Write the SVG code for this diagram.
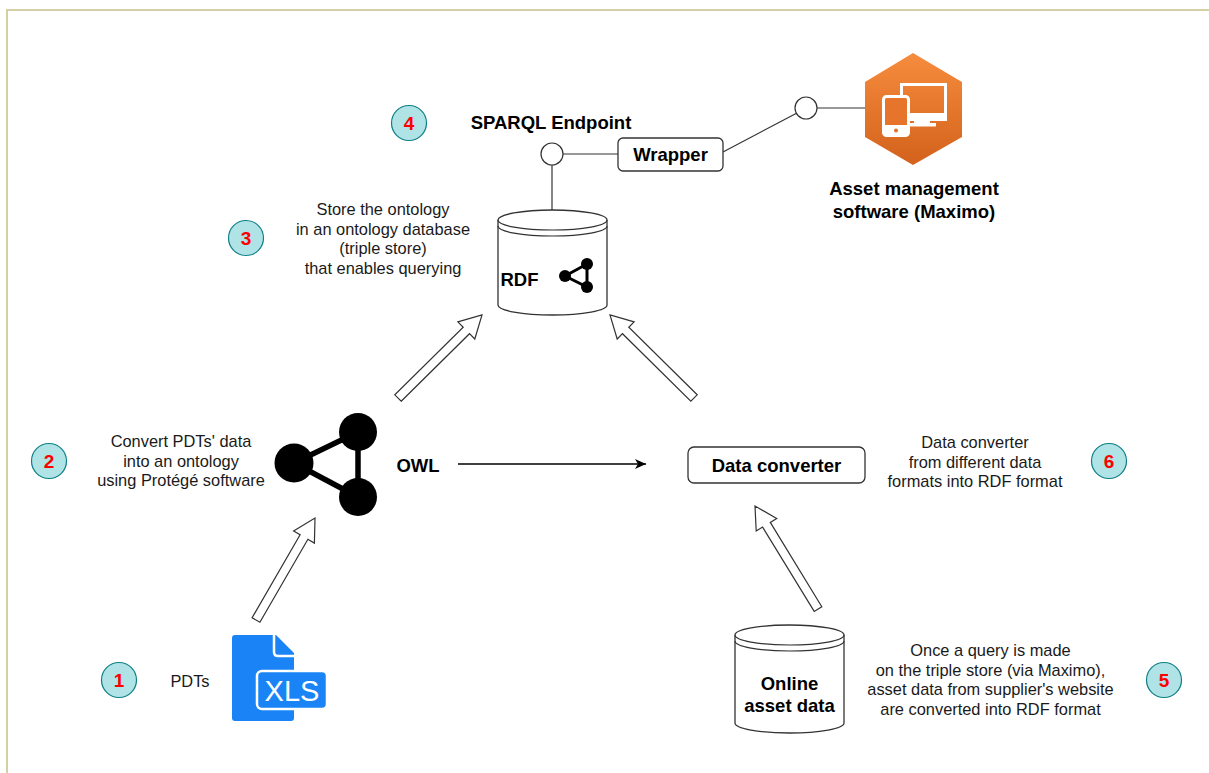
<svg xmlns="http://www.w3.org/2000/svg" width="1209" height="773" viewBox="0 0 1209 773">
<defs>
<linearGradient id="orange" x1="0" y1="0" x2="0" y2="1">
<stop offset="0" stop-color="#f68c3d"/>
<stop offset="1" stop-color="#d3621c"/>
</linearGradient>
<marker id="classic" markerWidth="12" markerHeight="10" refX="11" refY="5" orient="auto" markerUnits="userSpaceOnUse">
<path d="M0,0 L11,5 L0,10 L3,5 Z" fill="#000"/>
</marker>
</defs>
<style>
text{font-family:"Liberation Sans",Arial,sans-serif;}
.t{font-size:16.4px;fill:#1a1a1a;text-anchor:middle;}
.b{font-size:18.5px;font-weight:bold;fill:#000;text-anchor:middle;}
.num{fill:#b0e3e6;stroke:#0e8088;stroke-width:1.2;}
.numt{font-size:19px;font-weight:bold;fill:#ff0000;text-anchor:middle;}
.line{stroke:#333;stroke-width:1.2;fill:none;}
.port{fill:#fff;stroke:#333;stroke-width:1.2;}
.cyl{fill:#fff;stroke:#333;stroke-width:1.3;}
.barrow{fill:#fff;stroke:#333;stroke-width:1.2;stroke-linejoin:miter;}
</style>
<rect width="1209" height="773" fill="#fff"/>
<path d="M7,773 L7,10 L1209,10" fill="none" stroke="#d6cfa6" stroke-width="2"/>

<g id="connectors">
<line class="line" x1="552" y1="165" x2="552" y2="210"/>
<line class="line" x1="563" y1="154" x2="618" y2="154"/>
<line class="line" x1="723" y1="152" x2="797" y2="113"/>
<line class="line" x1="817" y1="108" x2="865" y2="108"/>
<line x1="458" y1="464" x2="646" y2="464" stroke="#000" stroke-width="1.3" marker-end="url(#classic)"/>
<polygon class="barrow" points="401.2,401.2 469.5,333.7 474.8,339 482,315 457.9,321.9 463.2,327.3 394.8,394.8"/>
<polygon class="barrow" points="697.2,394.8 628.8,327.3 634.1,321.9 610,315 617.2,339 622.5,333.7 690.8,401.2"/>
<polygon class="barrow" points="259.9,622.3 307.9,539.3 314.4,543.1 315,518 293.6,531 300.1,534.8 252.1,617.8"/>
<polygon class="barrow" points="821.8,606.7 770.3,522.4 776.7,518.5 755,506 756.2,531 762.6,527.1 814.2,611.4"/>
</g>

<g id="step1">
<circle class="num" cx="119" cy="680" r="17.5"/>
<text class="numt" x="119" y="687">1</text>
</g>
<g id="step2">
<circle class="num" cx="49" cy="461" r="17.5"/>
<text class="numt" x="49" y="468">2</text>
</g>
<g id="step3">
<circle class="num" cx="246" cy="238" r="17.5"/>
<text class="numt" x="246" y="245">3</text>
</g>
<g id="step4">
<circle class="num" cx="409" cy="123" r="17.5"/>
<text class="numt" x="409" y="130">4</text>
</g>
<g id="step5">
<circle class="num" cx="1164" cy="680" r="17.5"/>
<text class="numt" x="1164" y="687">5</text>
</g>
<g id="step6">
<circle class="num" cx="1109" cy="461" r="17.5"/>
<text class="numt" x="1109" y="468">6</text>
</g>

<g id="sparql-endpoint">
<text class="b" x="551" y="129">SPARQL Endpoint</text>
<circle class="port" cx="552" cy="154" r="11"/>
</g>

<g id="wrapper">
<rect x="618" y="138" width="105" height="33" rx="5" fill="#fff" stroke="#333" stroke-width="1.3"/>
<text class="b" x="670.5" y="161">Wrapper</text>
</g>

<g id="maximo-port">
<circle class="port" cx="806" cy="108" r="11"/>
</g>

<g id="maximo">
<polygon points="913,53 962,82 962,137 913,165 865,137 865,82" fill="url(#orange)"/>
<rect x="901.5" y="84.5" width="44" height="35" fill="none" stroke="#fff" stroke-width="3"/>
<rect x="901" y="113" width="45" height="7" fill="#fff"/>
<rect x="914" y="119" width="16" height="5" fill="#fff"/>
<rect x="910" y="123" width="26" height="3.5" fill="#fff"/>
<rect x="883.5" y="96.5" width="25" height="39" rx="3" fill="#e7742b" stroke="#fff" stroke-width="3"/>
<rect x="883" y="125" width="26" height="10" fill="#fff"/>
<circle cx="896" cy="130.5" r="2" fill="#e0702a"/>
<text class="b" x="914" y="195">Asset management</text>
<text class="b" x="914" y="218">software (Maximo)</text>
</g>

<g id="rdf">
<path class="cyl" d="M498,220 A54.5,10 0 0 1 607,220 L607,305 A54.5,10 0 0 1 498,305 Z"/>
<path class="line" d="M498,220 A54.5,10 0 0 0 607,220 M498,226 A54.5,10 0 0 0 607,226"/>
<text class="b" x="519.5" y="286">RDF</text>
<g stroke="#000" stroke-width="3">
<line x1="565" y1="276" x2="587" y2="264"/>
<line x1="565" y1="276" x2="587" y2="287"/>
<line x1="587" y1="264" x2="587" y2="287"/>
</g>
<circle cx="587" cy="264" r="6" fill="#000"/>
<circle cx="565" cy="276" r="6" fill="#000"/>
<circle cx="587" cy="287" r="6" fill="#000"/>
</g>

<g id="store-note">
<text class="t" x="383" y="215">Store the ontology</text>
<text class="t" x="383" y="234.5">in an ontology database</text>
<text class="t" x="383" y="254">(triple store)</text>
<text class="t" x="383" y="273.5">that enables querying</text>
</g>

<g id="owl">
<g stroke="#000" stroke-width="5.5">
<line x1="294" y1="463" x2="358" y2="432"/>
<line x1="294" y1="463" x2="358" y2="497"/>
<line x1="358" y1="432" x2="358" y2="497"/>
</g>
<circle cx="358" cy="432" r="19" fill="#000"/>
<circle cx="294" cy="463" r="19.5" fill="#000"/>
<circle cx="358" cy="497" r="19" fill="#000"/>
<text class="b" x="418" y="472">OWL</text>
</g>

<g id="convert-note">
<text class="t" x="181" y="447">Convert PDTs' data</text>
<text class="t" x="181" y="466.5">into an ontology</text>
<text class="t" x="181" y="486">using Protégé software</text>
</g>

<g id="data-converter">
<rect x="688" y="447" width="177" height="36" rx="6" fill="#fff" stroke="#333" stroke-width="1.3"/>
<text class="b" x="776.5" y="472">Data converter</text>
</g>

<g id="converter-note">
<text class="t" x="975" y="448">Data converter</text>
<text class="t" x="975" y="467.5">from different data</text>
<text class="t" x="975" y="487">formats into RDF format</text>
</g>

<g id="online-asset-data">
<path class="cyl" d="M735,635 A54.5,10 0 0 1 844,635 L844,723 A54.5,10 0 0 1 735,723 Z"/>
<path class="line" d="M735,635 A54.5,10 0 0 0 844,635 M735,641 A54.5,10 0 0 0 844,641"/>
<text class="b" x="789.5" y="690">Online</text>
<text class="b" x="789.5" y="712">asset data</text>
</g>

<g id="query-note">
<text class="t" x="990.5" y="656">Once a query is made</text>
<text class="t" x="990.5" y="675.5">on the triple store (via Maximo),</text>
<text class="t" x="990.5" y="695">asset data from supplier's website</text>
<text class="t" x="990.5" y="714.5">are converted into RDF format</text>
</g>

<g id="pdts">
<text class="t" x="190" y="687">PDTs</text>
<path d="M232,638 Q232,635 235,635 L276,635 L294,653 L294,718 Q294,721 291,721 L235,721 Q232,721 232,718 Z" fill="#1a84f7"/>
<path d="M274,634 L274,652 Q274,656 278,656 L295,656" fill="none" stroke="#fff" stroke-width="2.5"/>
<rect x="257" y="671" width="70" height="38" rx="5" fill="#1a84f7" stroke="#fff" stroke-width="2.5"/>
<text x="292" y="701" font-size="29px" fill="#fff" text-anchor="middle">XLS</text>
</g>
</svg>
